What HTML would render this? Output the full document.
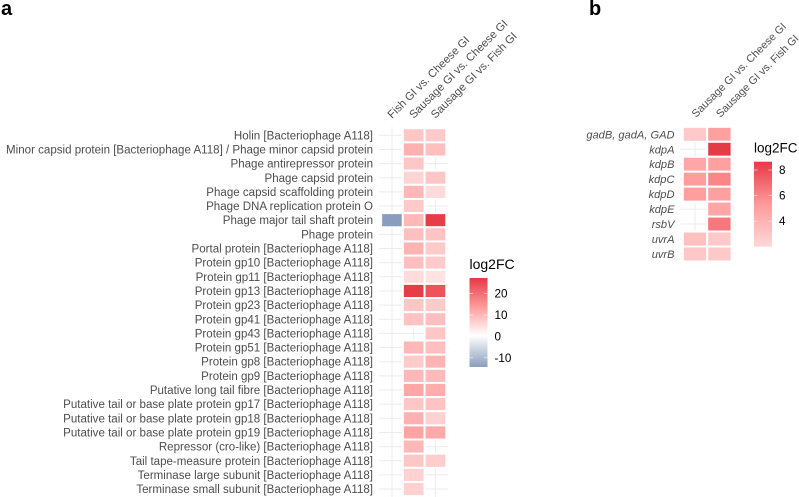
<!DOCTYPE html>
<html><head><meta charset="utf-8"><title>log2FC heatmaps</title>
<style>
html,body{margin:0;padding:0;background:#fff}
svg{display:block}
text{font-family:"Liberation Sans",sans-serif}
</style></head>
<body>
<svg id="chart" xmlns="http://www.w3.org/2000/svg" width="799" height="497" viewBox="0 0 799 497">
<defs>
<linearGradient id="gradA" x1="0" y1="0" x2="0" y2="1">
<stop offset="0" stop-color="#e63946"/><stop offset="0.32" stop-color="#ff9a9a"/><stop offset="0.645" stop-color="#ffffff"/><stop offset="1" stop-color="#8a9dbf"/>
</linearGradient>
<linearGradient id="gradB" x1="0" y1="0" x2="0" y2="1">
<stop offset="0" stop-color="#e63946"/><stop offset="0.5" stop-color="#ff9a9a"/><stop offset="1" stop-color="#ffd8d8"/>
</linearGradient>
</defs>
<text x="1" y="15" font-size="20" font-weight="bold" fill="#000">a</text>
<text x="589" y="15" font-size="20" font-weight="bold" fill="#000">b</text>
<g id="layer"></g>
</svg>
<script>
const svg = document.getElementById('layer');
const NS = 'http://www.w3.org/2000/svg';

const categoriesA = ["Holin [Bacteriophage A118]","Minor capsid protein [Bacteriophage A118] / Phage minor capsid protein","Phage antirepressor protein","Phage capsid protein","Phage capsid scaffolding protein","Phage DNA replication protein O","Phage major tail shaft protein","Phage protein","Portal protein [Bacteriophage A118]","Protein gp10 [Bacteriophage A118]","Protein gp11 [Bacteriophage A118]","Protein gp13 [Bacteriophage A118]","Protein gp23 [Bacteriophage A118]","Protein gp41 [Bacteriophage A118]","Protein gp43 [Bacteriophage A118]","Protein gp51 [Bacteriophage A118]","Protein gp8 [Bacteriophage A118]","Protein gp9 [Bacteriophage A118]","Putative long tail fibre [Bacteriophage A118]","Putative tail or base plate protein gp17 [Bacteriophage A118]","Putative tail or base plate protein gp18 [Bacteriophage A118]","Putative tail or base plate protein gp19 [Bacteriophage A118]","Repressor (cro-like) [Bacteriophage A118]","Tail tape-measure protein [Bacteriophage A118]","Terminase large subunit [Bacteriophage A118]","Terminase small subunit [Bacteriophage A118]"];
const columnsA = ["Fish GI vs. Cheese GI","Sausage GI vs. Cheese GI","Sausage GI vs. Fish GI"];
const fishCheeseA = [null,null,null,null,null,null,-15,null,null,null,null,null,null,null,null,null,null,null,null,null,null,null,null,null,null,null];
const sausageCheeseA = [8,11,8,6,10,7.5,10,9,10.5,9,5,27,8,8.5,null,10,7.5,10,12.5,8,11,13,10,8,6.5,6.5];
const sausageFishA = [7.5,9,null,8,5,null,27,8.5,7.5,7.5,4,24,7.5,9,8,9,10.5,9.5,11.5,8.5,6.5,12,null,7,null,null];
const ticksA = [20,10,0,-10];

const categoriesB = ["gadB, gadA, GAD","kdpA","kdpB","kdpC","kdpD","kdpE","rsbV","uvrA","uvrB"];
const columnsB = ["Sausage GI vs. Cheese GI","Sausage GI vs. Fish GI"];
const sausageCheeseB = [2.8,null,4.6,5.2,5.1,null,null,3.3,2.9];
const sausageFishB = [5,8.6,5,6,5,4.7,6.5,2.8,2.8];
const ticksB = [8,6,4];

function el(tag, attrs, parent) {
  const e = document.createElementNS(NS, tag);
  for (const k in attrs) e.setAttribute(k, attrs[k]);
  (parent || svg).appendChild(e);
  return e;
}
function hex(c) { return [parseInt(c.slice(1,3),16),parseInt(c.slice(3,5),16),parseInt(c.slice(5,7),16)]; }
function ramp(stops, v) {
  if (v <= stops[0][0]) return stops[0][1];
  for (let i = 1; i < stops.length; i++) {
    if (v <= stops[i][0]) {
      const t = (v - stops[i-1][0]) / (stops[i][0] - stops[i-1][0]);
      const a = hex(stops[i-1][1]), b = hex(stops[i][1]);
      return 'rgb(' + a.map((x, j) => Math.round(x + (b[j] - x) * t)).join(',') + ')';
    }
  }
  return stops[stops.length-1][1];
}
const stopsA = [[-15,'#8a9dbf'],[0,'#ffffff'],[13.5,'#ff9f9f'],[27.5,'#e63946']];
const stopsB = [[2,'#ffd8d8'],[5.3,'#ff9a9a'],[8.65,'#e63946']];

function drawPanel(cfg) {
  const xOf = i => cfg.x0 + i * cfg.dx;
  const yOf = i => cfg.y0 + i * cfg.dy;
  const left = xOf(0) - cfg.dx * 0.6, right = xOf(cfg.columns.length - 1) + cfg.dx * 0.6;
  cfg.categories.forEach((c, r) => {
    const line = el('line', {x1:left, x2:right, y1:yOf(r), y2:yOf(r), stroke:'#ebebeb', 'stroke-width':1});
    
    
    const t = el('text', {x:cfg.labelX, y:yOf(r) + 4, 'text-anchor':'end', 'font-size':cfg.fontSize, fill:'#4d4d4d', 'font-style':cfg.italic ? 'italic' : 'normal'});
    t.textContent = c;
    
    
  });
  cfg.columns.forEach((c, i) => {
    const line = el('line', {x1:xOf(i), x2:xOf(i), y1:cfg.gridTop, y2:cfg.gridBottom, stroke:'#ebebeb', 'stroke-width':1});
    
    
    const ax = xOf(i) + cfg.colLabelShift, ay = cfg.labelY;
    const t = el('text', {x:ax, y:ay, 'font-size':cfg.colFontSize, fill:'#4d4d4d', transform:'rotate(-45 ' + ax + ' ' + ay + ')'});
    t.textContent = c;
    
    
  });
  cfg.series.forEach((vals, i) => {
    vals.forEach((v, r) => {
      if (v === null) return;
      const rect = el('rect', {x:xOf(i) - cfg.dx/2, y:yOf(r) - cfg.dy/2, width:cfg.dx, height:cfg.dy, fill:ramp(cfg.stops, v), stroke:'#fff', 'stroke-width':2});
      
      
    });
  });
  // legend
  const L = cfg.legend;
  const title = el('text', {x:L.x, y:L.titleY, 'font-size':L.titleSize, fill:'#000'});
  title.textContent = 'log2FC';
  
  
  const bar = el('rect', {x:L.x, y:L.y, width:L.w, height:L.h, fill:'url(#' + L.grad + ')'});
  
  
  cfg.ticks.forEach(v => {
    const y = L.y + (L.max - v) / (L.max - L.min) * L.h;
    [[L.x, L.x + 3.5], [L.x + L.w - 3.5, L.x + L.w]].forEach(p => {
      const m = el('line', {x1:p[0], x2:p[1], y1:y, y2:y, stroke:'#fff', 'stroke-opacity':0.8, 'stroke-width':0.7});
      
      
    });
    const t = el('text', {x:L.x + L.w + 7, y:y + 4, 'font-size':11.7, fill:'#000'});
    t.textContent = v;
    
    
  });
}

drawPanel({
  categories:categoriesA, columns:columnsA, series:[fishCheeseA,sausageCheeseA,sausageFishA],
  x0:392, dx:21.7, y0:135.3, dy:14.15, labelX:373, labelY:119, fontSize:11.55, colFontSize:11.25, colLabelShift:0,
  gridTop:127, gridBottom:497, stops:stopsA, ticks:ticksA,
  legend:{x:469.5, y:278, w:18, h:89, min:-14.3, max:27.3, grad:'gradA', titleY:269, titleSize:14}
});
drawPanel({
  categories:categoriesB, columns:columnsB, series:[sausageCheeseB,sausageFishB],
  x0:695, dx:24.4, y0:134.3, dy:14.96, labelX:674.5, labelY:118, fontSize:11.1, italic:true, colFontSize:10.8, colLabelShift:1,
  gridTop:127, gridBottom:262, stops:stopsB, ticks:ticksB,
  legend:{x:754, y:161.7, w:18, h:85, min:2, max:8.65, grad:'gradB', titleY:152.5, titleSize:13.5}
});
</script>
</body></html>
